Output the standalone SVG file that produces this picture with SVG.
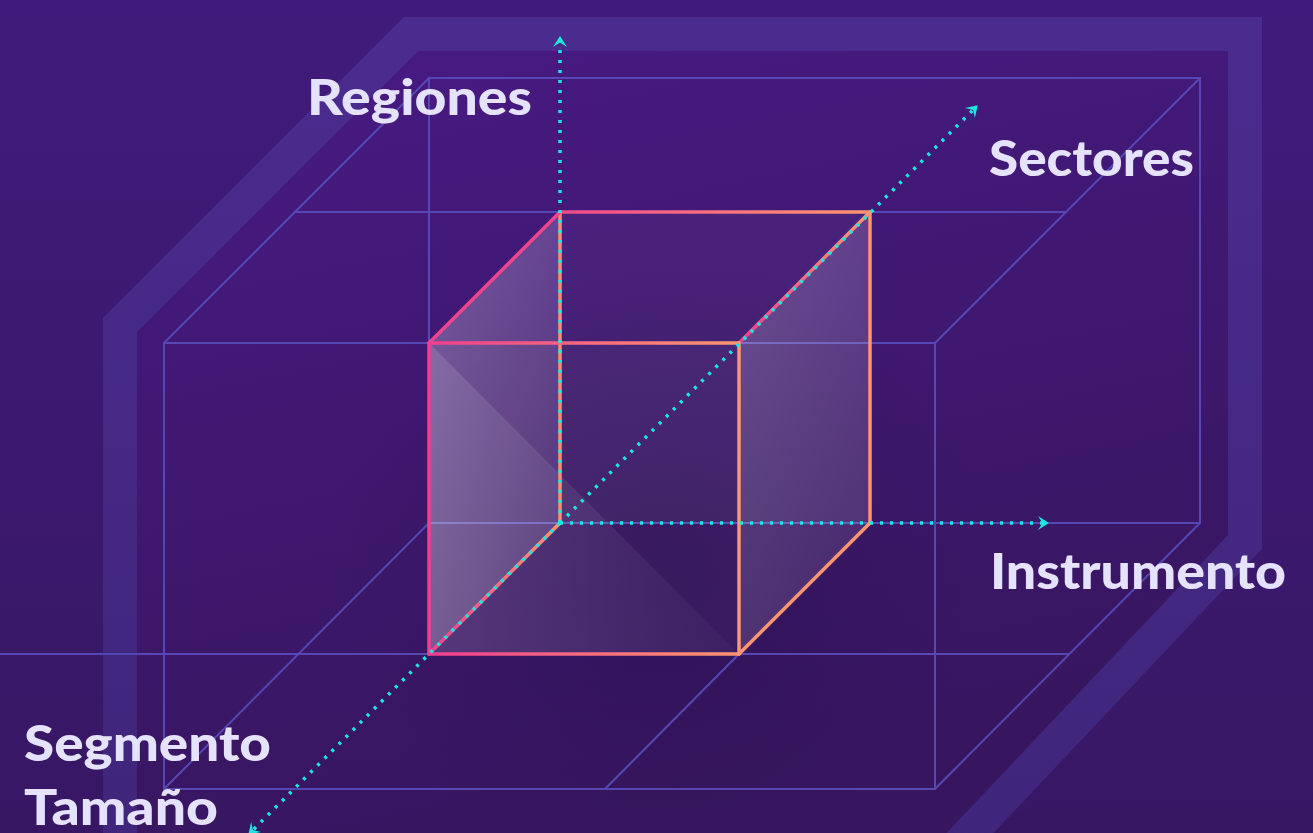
<svg xmlns="http://www.w3.org/2000/svg" width="1313" height="833" viewBox="0 0 1313 833">
  <defs>
    <linearGradient id="bgOut" x1="0" y1="0" x2="0" y2="1">
      <stop offset="0" stop-color="#411b7b"/>
      <stop offset="1" stop-color="#371764"/>
    </linearGradient>
    <linearGradient id="bgIn" x1="0" y1="0" x2="0.3" y2="1">
      <stop offset="0" stop-color="#481a84"/>
      <stop offset="1" stop-color="#37165f"/>
    </linearGradient>
    <linearGradient id="band" x1="0" y1="0" x2="0" y2="1">
      <stop offset="0" stop-color="#4a2c8e"/>
      <stop offset="1" stop-color="#3f257b"/>
    </linearGradient>
    <radialGradient id="shadow" cx="660" cy="560" r="330" gradientUnits="userSpaceOnUse">
      <stop offset="0" stop-color="#1c0a3a" stop-opacity="0.32"/>
      <stop offset="0.6" stop-color="#1c0a3a" stop-opacity="0.1"/>
      <stop offset="1" stop-color="#1c0a3a" stop-opacity="0"/>
    </radialGradient>
    <linearGradient id="edgeF" gradientUnits="userSpaceOnUse" x1="429" y1="0" x2="739" y2="0">
      <stop offset="0" stop-color="#ef3f8e"/>
      <stop offset="1" stop-color="#fd9671"/>
    </linearGradient>
    <linearGradient id="edgeB" gradientUnits="userSpaceOnUse" x1="560" y1="0" x2="870" y2="0">
      <stop offset="0" stop-color="#f04a8c"/>
      <stop offset="1" stop-color="#fd9671"/>
    </linearGradient>
    <linearGradient id="edgeD" x1="0" y1="1" x2="1" y2="0">
      <stop offset="0" stop-color="#ef3f8e"/>
      <stop offset="1" stop-color="#fd9671"/>
    </linearGradient>
    <linearGradient id="faceL" x1="0" y1="0" x2="1" y2="1">
      <stop offset="0" stop-color="#ffffff" stop-opacity="0.28"/>
      <stop offset="1" stop-color="#ffffff" stop-opacity="0.1"/>
    </linearGradient>
    <linearGradient id="faceR" x1="0" y1="0" x2="1" y2="1">
      <stop offset="0" stop-color="#ffffff" stop-opacity="0.2"/>
      <stop offset="1" stop-color="#ffffff" stop-opacity="0.07"/>
    </linearGradient>
    <linearGradient id="faceT" x1="0" y1="0" x2="1" y2="0">
      <stop offset="0" stop-color="#ffffff" stop-opacity="0.12"/>
      <stop offset="1" stop-color="#ffffff" stop-opacity="0.02"/>
    </linearGradient>
    <marker id="arr" viewBox="-12 -9 14 18" markerWidth="14" markerHeight="18" refX="0" refY="0" orient="auto" markerUnits="userSpaceOnUse">
      <path d="M1,0 L-10,-7 L-5.5,0 L-10,7 Z" fill="#1de8df"/>
    </marker>
  </defs>
  <style>
    .grid { fill: none; stroke: #5548b4; stroke-width: 2; }
    .edge { fill: none; stroke-width: 3.5; stroke-linecap: round; }
    .axis { fill: none; stroke: #1de8df; stroke-width: 3.5; stroke-dasharray: 3 7; }
    .lbl { font-family: Lato, "Open Sans", "Liberation Sans", sans-serif; font-weight: 900; font-size: 49px; fill: #e4e2fc; }
  </style>

  <g id="background">
    <rect x="0" y="0" width="1313" height="833" fill="url(#bgOut)"/>
    <polygon points="120,325 411,34 1245,34 1245,542 954,833 120,833" fill="url(#bgIn)"/>
    <rect x="0" y="0" width="1313" height="833" fill="url(#shadow)"/>
    <polygon points="120,325 411,34 1245,34 1245,542 954,850 120,850" fill="none" stroke="url(#band)" stroke-width="34" stroke-linejoin="miter"/>
  </g>

  <g id="grid">
    <rect class="grid" x="164" y="343" width="771" height="446"/>
    <rect class="grid" x="429" y="78" width="771" height="445"/>
    <line class="grid" x1="164" y1="343" x2="429" y2="78"/>
    <line class="grid" x1="935" y1="343" x2="1200" y2="78"/>
    <line class="grid" x1="935" y1="789" x2="1200" y2="523"/>
    <line class="grid" x1="164" y1="789" x2="429" y2="523"/>
    <line class="grid" x1="294" y1="212" x2="1065" y2="212"/>
    <line class="grid" x1="0" y1="654" x2="1069" y2="654"/>
    <line class="grid" x1="739" y1="654" x2="605" y2="789"/>
  </g>

  <g id="cube">
    <rect x="560" y="212" width="310" height="311" fill="#ffffff" fill-opacity="0.04"/>
    <polygon points="429,343 560,212 560,523 429,654" fill="url(#faceL)"/>
    <polygon points="739,343 870,212 870,523 739,654" fill="url(#faceR)"/>
    <rect x="429" y="343" width="310" height="311" fill="#ffffff" fill-opacity="0.03"/>
    <polygon points="429,343 739,654 429,654" fill="url(#faceT)"/>
    <line class="edge" x1="560" y1="212" x2="870" y2="212" stroke="url(#edgeB)"/>
    <line class="edge" x1="560" y1="212" x2="560" y2="523" stroke="#f98e72"/>
    <line class="edge" x1="870" y1="212" x2="870" y2="523" stroke="#fd9671"/>
    <line class="edge" x1="429" y1="343" x2="560" y2="212" stroke="#f0448d"/>
    <line class="edge" x1="739" y1="343" x2="870" y2="212" stroke="url(#edgeD)"/>
    <line class="edge" x1="429" y1="654" x2="560" y2="523" stroke="url(#edgeD)"/>
    <line class="edge" x1="739" y1="654" x2="870" y2="523" stroke="#fd9671"/>
    <line class="edge" x1="429" y1="343" x2="739" y2="343" stroke="url(#edgeF)"/>
    <line class="edge" x1="429" y1="654" x2="739" y2="654" stroke="url(#edgeF)"/>
    <line class="edge" x1="429" y1="343" x2="429" y2="654" stroke="#ef3f8e"/>
    <line class="edge" x1="739" y1="343" x2="739" y2="654" stroke="#fd9671"/>
  </g>

  <g id="connectors">
    <line class="axis" x1="560" y1="523" x2="560" y2="37" marker-end="url(#arr)"/>
    <line class="axis" x1="560" y1="523" x2="1048" y2="523" marker-end="url(#arr)"/>
    <line class="axis" x1="560" y1="523" x2="977" y2="106" marker-end="url(#arr)"/>
    <line class="axis" x1="560" y1="523" x2="249" y2="834" marker-end="url(#arr)"/>
  </g>

  <g id="labels">
    <text class="lbl" x="307" y="115" textLength="225" lengthAdjust="spacingAndGlyphs">Regiones</text>
    <text class="lbl" x="989" y="176" textLength="205" lengthAdjust="spacingAndGlyphs">Sectores</text>
    <text class="lbl" x="990" y="589" textLength="296" lengthAdjust="spacingAndGlyphs">Instrumento</text>
    <text class="lbl" x="24" y="761" textLength="247" lengthAdjust="spacingAndGlyphs">Segmento</text>
    <text class="lbl" x="24" y="825" textLength="194" lengthAdjust="spacingAndGlyphs">Tamaño</text>
  </g>
</svg>
